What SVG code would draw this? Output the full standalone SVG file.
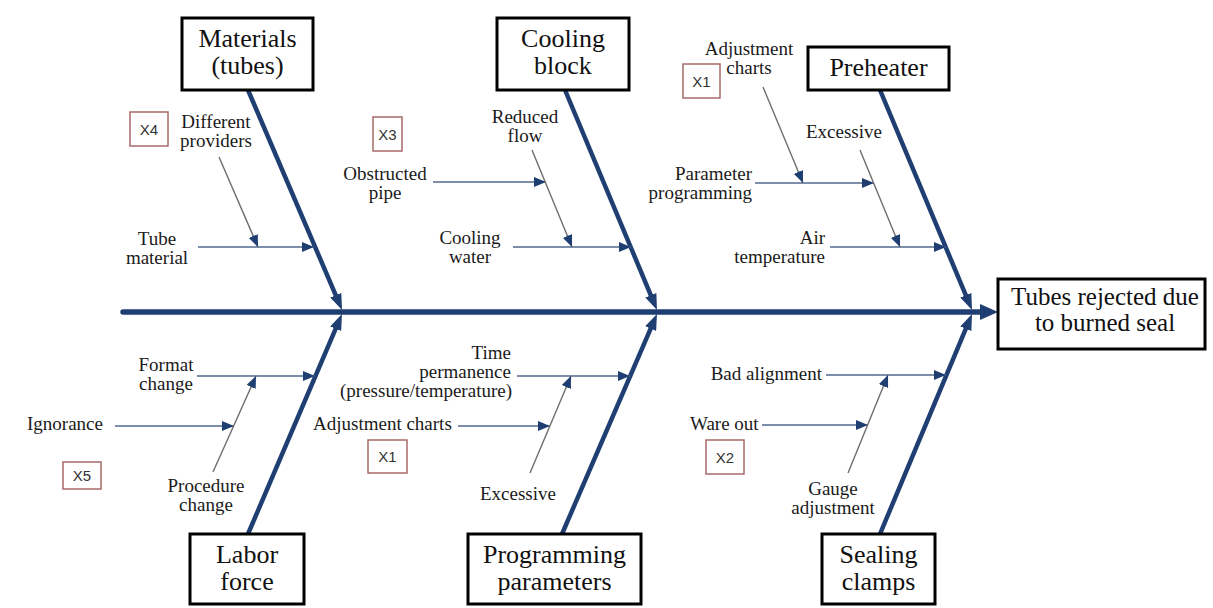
<svg xmlns="http://www.w3.org/2000/svg" width="1213" height="608" viewBox="0 0 1213 608">
  <style>
    .box { fill: #ffffff; stroke: #000000; stroke-width: 3; }
    .title { font-family: "Liberation Serif", "Times New Roman", serif; font-size: 26px; fill: #111111; text-anchor: middle; }
    .effect { font-family: "Liberation Serif", "Times New Roman", serif; font-size: 25px; fill: #111111; text-anchor: middle; }
    .lbl { font-family: "Liberation Serif", "Times New Roman", serif; font-size: 19px; fill: #1a1a1a; }
    .mid { text-anchor: middle; }
    .end { text-anchor: end; }
    .tag rect { fill: #ffffff; stroke: #a86a6a; stroke-width: 1.5; }
    .tag text { font-family: "Liberation Sans", Arial, sans-serif; font-size: 15px; fill: #333333; text-anchor: middle; }
    .spine { stroke: #1f3f73; stroke-width: 5.5; stroke-linecap: round; fill: none; }
    .bone { stroke: #1f3f73; stroke-width: 4.5; fill: none; }
    .cause { stroke: #50698c; stroke-width: 1.6; fill: none; }
    .sub { stroke: #6e6e6e; stroke-width: 1.4; fill: none; }
  </style>
  <defs>
    <marker id="headSpine" viewBox="0 0 18 16" refX="8" refY="8" markerWidth="18" markerHeight="16" orient="auto" markerUnits="userSpaceOnUse">
      <path d="M0,0 L18,8 L0,16 z" fill="#1f3f73"/>
    </marker>
    <marker id="headBone" viewBox="0 0 16 12" refX="8" refY="6" markerWidth="16" markerHeight="12" orient="auto" markerUnits="userSpaceOnUse">
      <path d="M0,0 L16,6 L0,12 z" fill="#1f3f73"/>
    </marker>
    <marker id="headThin" viewBox="0 0 12 10" refX="12" refY="5" markerWidth="12" markerHeight="10" orient="auto" markerUnits="userSpaceOnUse">
      <path d="M0,0 L12,5 L0,10 z" fill="#1f3f73"/>
    </marker>
  </defs>

  <rect x="0" y="0" width="1213" height="608" fill="#ffffff"/>

  <!-- connectors: spine, main bones, cause and sub-cause arrows -->
  <g id="connectors">
    <line class="spine" x1="123" y1="312" x2="988" y2="312" marker-end="url(#headSpine)"/>

    <line class="bone" x1="248" y1="90" x2="338.9" y2="302.6" marker-end="url(#headBone)"/>
    <line class="bone" x1="565" y1="90" x2="653.9" y2="302.6" marker-end="url(#headBone)"/>
    <line class="bone" x1="880" y1="90" x2="968.9" y2="302.6" marker-end="url(#headBone)"/>
    <line class="bone" x1="248" y1="534" x2="338.8" y2="321.4" marker-end="url(#headBone)"/>
    <line class="bone" x1="562" y1="534" x2="653.8" y2="321.3" marker-end="url(#headBone)"/>
    <line class="bone" x1="880" y1="534" x2="968.9" y2="321.4" marker-end="url(#headBone)"/>

    <!-- Materials -->
    <line class="cause" x1="198" y1="247" x2="314" y2="247" marker-end="url(#headThin)"/>
    <line class="sub" x1="219" y1="157" x2="258" y2="247" marker-end="url(#headThin)"/>
    <!-- Cooling block -->
    <line class="cause" x1="433" y1="182" x2="546" y2="182" marker-end="url(#headThin)"/>
    <line class="cause" x1="513" y1="247" x2="631" y2="247" marker-end="url(#headThin)"/>
    <line class="sub" x1="532" y1="150" x2="572" y2="247" marker-end="url(#headThin)"/>
    <!-- Preheater -->
    <line class="cause" x1="755" y1="183" x2="874" y2="183" marker-end="url(#headThin)"/>
    <line class="cause" x1="830" y1="247" x2="946" y2="247" marker-end="url(#headThin)"/>
    <line class="sub" x1="763" y1="87" x2="803" y2="183" marker-end="url(#headThin)"/>
    <line class="sub" x1="860" y1="150" x2="900" y2="247" marker-end="url(#headThin)"/>
    <!-- Labor force -->
    <line class="cause" x1="197" y1="376" x2="315" y2="376" marker-end="url(#headThin)"/>
    <line class="cause" x1="115" y1="426" x2="234" y2="426" marker-end="url(#headThin)"/>
    <line class="sub" x1="213" y1="472" x2="256" y2="376" marker-end="url(#headThin)"/>
    <!-- Programming parameters -->
    <line class="cause" x1="517" y1="376" x2="630" y2="376" marker-end="url(#headThin)"/>
    <line class="cause" x1="458" y1="426" x2="550" y2="426" marker-end="url(#headThin)"/>
    <line class="sub" x1="530" y1="473" x2="571" y2="376" marker-end="url(#headThin)"/>
    <!-- Sealing clamps -->
    <line class="cause" x1="826" y1="375" x2="946" y2="375" marker-end="url(#headThin)"/>
    <line class="cause" x1="762" y1="425" x2="868" y2="425" marker-end="url(#headThin)"/>
    <line class="sub" x1="848" y1="473" x2="888" y2="375" marker-end="url(#headThin)"/>
  </g>

  <!-- effect -->
  <g id="effect">
    <rect class="box" x="998" y="279" width="207" height="70"/>
    <text class="effect" x="1105" y="305">Tubes rejected due</text>
    <text class="effect" x="1105" y="331">to burned seal</text>
  </g>

  <!-- category heads -->
  <g id="materials">
    <rect class="box" x="182" y="18" width="131" height="72"/>
    <text class="title" x="247.5" y="47">Materials</text>
    <text class="title" x="247.5" y="74">(tubes)</text>
  </g>
  <g id="cooling-block">
    <rect class="box" x="497" y="18" width="132" height="72"/>
    <text class="title" x="563" y="47">Cooling</text>
    <text class="title" x="563" y="74">block</text>
  </g>
  <g id="preheater">
    <rect class="box" x="808" y="47" width="141" height="43"/>
    <text class="title" x="878.5" y="76">Preheater</text>
  </g>
  <g id="labor-force">
    <rect class="box" x="190" y="534" width="114" height="70"/>
    <text class="title" x="247" y="563">Labor</text>
    <text class="title" x="247" y="590">force</text>
  </g>
  <g id="programming-parameters">
    <rect class="box" x="468" y="534" width="173" height="70"/>
    <text class="title" x="554.5" y="563">Programming</text>
    <text class="title" x="554.5" y="590">parameters</text>
  </g>
  <g id="sealing-clamps">
    <rect class="box" x="822" y="534" width="113" height="70"/>
    <text class="title" x="878.5" y="563">Sealing</text>
    <text class="title" x="878.5" y="590">clamps</text>
  </g>

  <!-- cause labels -->
  <g id="labels-top">
    <text class="lbl mid" x="216" y="128">Different</text>
    <text class="lbl mid" x="216" y="147">providers</text>
    <text class="lbl mid" x="157" y="245">Tube</text>
    <text class="lbl mid" x="157" y="264">material</text>
    <text class="lbl mid" x="385" y="180">Obstructed</text>
    <text class="lbl mid" x="385" y="199">pipe</text>
    <text class="lbl mid" x="525" y="123">Reduced</text>
    <text class="lbl mid" x="525" y="142">flow</text>
    <text class="lbl mid" x="470" y="244">Cooling</text>
    <text class="lbl mid" x="470" y="263">water</text>
    <text class="lbl mid" x="749" y="55">Adjustment</text>
    <text class="lbl mid" x="749" y="74">charts</text>
    <text class="lbl end" x="752" y="180">Parameter</text>
    <text class="lbl end" x="752" y="199">programming</text>
    <text class="lbl mid" x="844" y="138">Excessive</text>
    <text class="lbl end" x="825" y="244">Air</text>
    <text class="lbl end" x="825" y="263">temperature</text>
  </g>
  <g id="labels-bottom">
    <text class="lbl mid" x="166" y="371">Format</text>
    <text class="lbl mid" x="166" y="390">change</text>
    <text class="lbl" x="27" y="430">Ignorance</text>
    <text class="lbl mid" x="206" y="492">Procedure</text>
    <text class="lbl mid" x="206" y="511">change</text>
    <text class="lbl end" x="511" y="359">Time</text>
    <text class="lbl end" x="511" y="378">permanence</text>
    <text class="lbl end" x="512" y="397">(pressure/temperature)</text>
    <text class="lbl" x="313" y="430">Adjustment charts</text>
    <text class="lbl mid" x="518" y="500">Excessive</text>
    <text class="lbl end" x="822" y="380">Bad alignment</text>
    <text class="lbl" x="690" y="430">Ware out</text>
    <text class="lbl mid" x="833" y="495">Gauge</text>
    <text class="lbl mid" x="833" y="514">adjustment</text>
  </g>

  <!-- priority tags -->
  <g id="tag-x4" class="tag"><rect x="130" y="112" width="38" height="34"/><text x="149" y="135">X4</text></g>
  <g id="tag-x3" class="tag"><rect x="373" y="117" width="29" height="34"/><text x="387.5" y="140">X3</text></g>
  <g id="tag-x1-top" class="tag"><rect x="683" y="64" width="37" height="34"/><text x="701.5" y="87">X1</text></g>
  <g id="tag-x5" class="tag"><rect x="63" y="462" width="38" height="27"/><text x="82" y="481">X5</text></g>
  <g id="tag-x1-bottom" class="tag"><rect x="368" y="440" width="39" height="33"/><text x="387.5" y="462">X1</text></g>
  <g id="tag-x2" class="tag"><rect x="706" y="440" width="38" height="34"/><text x="725" y="463">X2</text></g>
</svg>
